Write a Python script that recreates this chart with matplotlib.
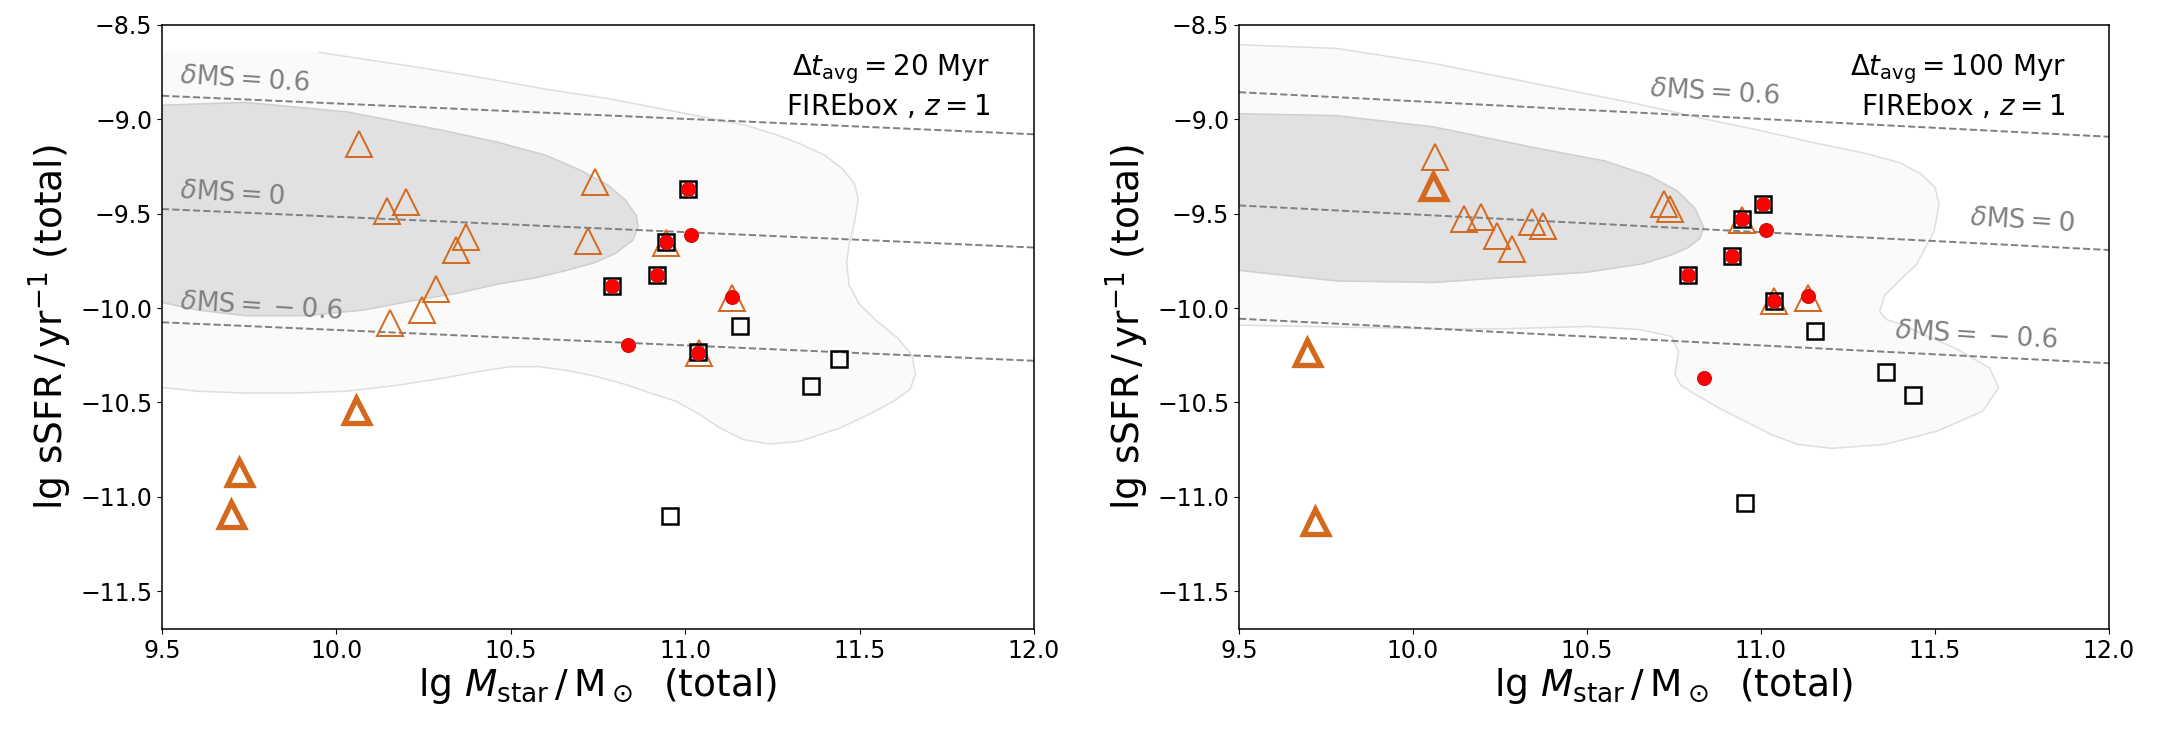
import numpy as np
import matplotlib
matplotlib.use("Agg")
import matplotlib.pyplot as plt

plt.rcParams['font.family'] = ['DejaVu Sans']
plt.rcParams['mathtext.fontset'] = 'dejavusans'

# ---------------- data: 20 Myr panel ----------------
tri_thin_x_20 = [10.064, 10.145, 10.199, 10.372, 10.343, 10.286, 10.246, 10.153,
                 10.741, 10.722, 10.944, 11.135, 11.039]
tri_thin_y_20 = [-9.13, -9.485, -9.436, -9.625, -9.692, -9.90, -10.011, -10.077,
                 -9.333, -9.643, -9.657, -9.947, -10.237]
tri_thick_x_20 = [10.057, 9.72, 9.697]
tri_thick_y_20 = [-10.539, -10.866, -11.09]
sq_x_20 = [11.008, 10.944, 10.919, 10.791, 11.037, 11.157, 11.441, 11.36, 10.956]
sq_y_20 = [-9.367, -9.652, -9.822, -9.883, -10.232, -10.095, -10.269, -10.414, -11.102]
circ_x_20 = [11.008, 11.017, 10.944, 10.919, 10.791, 10.837, 11.135, 11.037]
circ_y_20 = [-9.367, -9.611, -9.652, -9.822, -9.883, -10.195, -9.94, -10.237]

# ---------------- data: 100 Myr panel ----------------
tri_thin_x_100 = [10.064, 10.146, 10.194, 10.242, 10.285, 10.342, 10.373, 10.721,
                  10.738, 10.944, 11.036, 11.134]
tri_thin_y_100 = [-9.20, -9.53, -9.515, -9.617, -9.687, -9.544, -9.564, -9.448,
                  -9.475, -9.534, -9.964, -9.945]
tri_thick_x_100 = [10.057, 9.695, 9.719]
tri_thick_y_100 = [-9.355, -10.23, -11.129]
sq_x_100 = [11.005, 10.944, 10.916, 10.791, 11.036, 11.155, 11.359, 11.438, 10.954]
sq_y_100 = [-9.448, -9.53, -9.725, -9.824, -9.962, -10.119, -10.338, -10.458, -11.033]
circ_x_100 = [11.005, 10.944, 11.014, 10.916, 10.791, 11.036, 11.134, 10.836]
circ_y_100 = [-9.448, -9.53, -9.586, -9.725, -9.824, -9.962, -9.937, -10.372]

# main-sequence reference lines (value at lg M = 9.5 and 12.0 for dMS = 0)
ms_mass = [9.5, 12.0]
ms0_20 = [-9.475, -9.679]
ms0_100 = [-9.456, -9.692]
ms_offsets = [0.6, 0.0, -0.6]

# population density contours (outer / inner boundary)
outer_x_20 = [9.50, 9.95, 10.22, 10.42, 10.60, 10.78, 10.92, 11.06, 11.17, 11.26, 11.33,
              11.40, 11.45, 11.485, 11.496, 11.485, 11.47, 11.463, 11.47, 11.50, 11.55,
              11.61, 11.65, 11.66, 11.645, 11.60, 11.53, 11.444, 11.33, 11.243, 11.167,
              11.10, 11.042, 10.975, 10.90, 10.83, 10.74, 10.66, 10.58, 10.50, 10.41,
              10.31, 10.17, 10.03, 9.88, 9.74, 9.60, 9.50]
outer_y_20 = [-8.645, -8.645, -8.72, -8.78, -8.84, -8.89, -8.94, -8.99, -9.03, -9.08, -9.13,
              -9.19, -9.26, -9.34, -9.42, -9.55, -9.66, -9.76, -9.88, -9.98, -10.07,
              -10.16, -10.25, -10.35, -10.43, -10.49, -10.56, -10.635, -10.705, -10.72, -10.697,
              -10.635, -10.564, -10.494, -10.45, -10.405, -10.36, -10.33, -10.31, -10.31, -10.335,
              -10.37, -10.41, -10.44, -10.45, -10.45, -10.44, -10.42]
inner_x_20 = [9.50, 9.74, 10.03, 10.31, 10.46, 10.60, 10.70, 10.78, 10.83, 10.86, 10.865,
              10.85, 10.80, 10.74, 10.66, 10.57, 10.47, 10.35, 10.22, 10.08, 9.91, 9.74,
              9.60, 9.50]
inner_y_20 = [-8.925, -8.91, -8.96, -9.06, -9.12, -9.19, -9.27, -9.35, -9.43, -9.51, -9.57,
              -9.64, -9.71, -9.76, -9.80, -9.84, -9.87, -9.92, -9.96, -10.01, -10.04, -10.04,
              -10.01, -9.97]
outer_x_100 = [9.50, 9.78, 10.06, 10.35, 10.64, 10.82, 11.00, 11.16, 11.30, 11.40, 11.46,
               11.50, 11.512, 11.497, 11.446, 11.40, 11.356, 11.341, 11.36, 11.406, 11.48,
               11.557, 11.657, 11.683, 11.637, 11.507, 11.356, 11.205, 11.105, 11.03, 10.954,
               10.88, 10.813, 10.77, 10.753, 10.763, 10.743, 10.652, 10.502, 10.25, 10.06,
               9.78, 9.50]
outer_y_100 = [-8.604, -8.624, -8.704, -8.81, -8.916, -8.99, -9.06, -9.127, -9.18, -9.23, -9.29,
               -9.36, -9.45, -9.595, -9.771, -9.85, -9.93, -10.018, -10.06, -10.088, -10.15,
               -10.211, -10.317, -10.422, -10.546, -10.651, -10.722, -10.743, -10.722, -10.67, -10.599,
               -10.53, -10.458, -10.41, -10.352, -10.229, -10.15, -10.114, -10.097, -10.11, -10.11,
               -10.10, -10.09]
inner_x_100 = [9.50, 9.78, 10.06, 10.35, 10.55, 10.68, 10.76, 10.81, 10.835, 10.825, 10.79,
               10.74, 10.66, 10.50, 10.25, 10.06, 9.78, 9.50]
inner_y_100 = [-8.97, -8.98, -9.04, -9.15, -9.22, -9.30, -9.38, -9.47, -9.57, -9.63, -9.68,
               -9.72, -9.765, -9.81, -9.84, -9.864, -9.856, -9.80]

ms_labels = [r'$\delta\mathrm{MS} = 0.6$', r'$\delta\mathrm{MS} = 0$',
             r'$\delta\mathrm{MS} = \:-\:0.6$']
ms_label_pos_20 = [(9.55, -8.77), (9.55, -9.38), (9.55, -9.97)]
ms_label_pos_100 = [(10.68, -8.84), (11.60, -9.52), (11.385, -10.12)]

panels = [
    dict(tt=(tri_thin_x_20, tri_thin_y_20), tk=(tri_thick_x_20, tri_thick_y_20),
         sq=(sq_x_20, sq_y_20), ci=(circ_x_20, circ_y_20), ms0=ms0_20,
         outer=(outer_x_20, outer_y_20), outer_edge_start=1,
         inner=(inner_x_20, inner_y_20), labpos=ms_label_pos_20,
         title=r'$\Delta t_{\rm avg} = 20$ Myr' + '\n' + r'FIREbox , $z = 1$'),
    dict(tt=(tri_thin_x_100, tri_thin_y_100), tk=(tri_thick_x_100, tri_thick_y_100),
         sq=(sq_x_100, sq_y_100), ci=(circ_x_100, circ_y_100), ms0=ms0_100,
         outer=(outer_x_100, outer_y_100), outer_edge_start=0,
         inner=(inner_x_100, inner_y_100), labpos=ms_label_pos_100,
         title=r'$\Delta t_{\rm avg} = 100$ Myr' + '\n' + r'FIREbox , $z = 1$'),
]

W, H = 2157, 729
fig = plt.figure(figsize=(W / 100, H / 100), dpi=100)
axes = [fig.add_axes([162 / W, 1 - 629 / H, 872 / W, 604 / H]),
        fig.add_axes([1239 / W, 1 - 629 / H, 870 / W, 604 / H])]

orange = '#d2691e'
for ax, p in zip(axes, panels):
    ox, oy = p['outer']
    ax.fill(ox, oy, facecolor='#fafafa', edgecolor='none', zorder=0)
    k = p['outer_edge_start']
    ax.plot(ox[k:], oy[k:], color='#dedede', lw=1.1, zorder=0.5)
    ix, iy = p['inner']
    ax.fill(ix, iy, facecolor='#e1e1e1', edgecolor='#cfcfcf', lw=1.1, zorder=1)

    for off, lab, pos in zip(ms_offsets, ms_labels, p['labpos']):
        ax.plot(ms_mass, [v + off for v in p['ms0']], ls='--', color='#808080',
                lw=1.4, zorder=2)
        ax.text(pos[0], pos[1], lab, color='#808080', fontsize=19, ha='left',
                va='center', rotation=-3.5, rotation_mode='anchor', zorder=2)

    ax.plot(*p['tt'], ls='none', marker='^', ms=19, mfc='none', mec=orange,
            mew=1.4, zorder=3)
    ax.plot(*p['tk'], ls='none', marker='^', ms=18, mfc='none', mec=orange,
            mew=3.8, zorder=3)
    ax.plot(*p['sq'], ls='none', marker='s', ms=11, mfc='none', mec='black',
            mew=1.8, zorder=4)
    ax.plot(*p['ci'], ls='none', marker='o', ms=10, mfc='#ff0000', mec='#cc1111',
            mew=0.8, zorder=5)

    ax.text(0.95, 0.955, p['title'], transform=ax.transAxes, ha='right', va='top',
            fontsize=20, linespacing=1.25, multialignment='right', zorder=6)

    ax.set_xlim(9.5, 12.0)
    ax.set_ylim(-11.7, -8.5)
    ax.set_xticks([9.5, 10.0, 10.5, 11.0, 11.5, 12.0])
    ax.set_yticks([-11.5, -11.0, -10.5, -10.0, -9.5, -9.0, -8.5])
    ax.tick_params(labelsize=17)
    ax.set_xlabel(r'$\lg\,M_{\rm star}\,/\,\mathrm{M}_\odot$  (total)', fontsize=27,
                  labelpad=2)
    ax.set_ylabel(r'$\lg\,\mathrm{sSFR}\,/\,\mathrm{yr}^{-1}$ (total)', fontsize=27,
                  labelpad=4)
    for s in ax.spines.values():
        s.set_linewidth(1.1)

fig.savefig('out.png', dpi=100)
